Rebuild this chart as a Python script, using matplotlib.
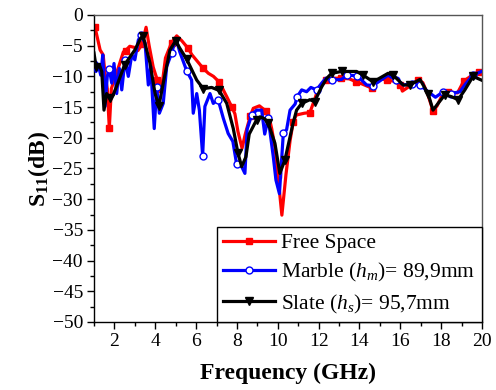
import numpy as np
import matplotlib
matplotlib.use("Agg")
import matplotlib.pyplot as plt
from matplotlib.ticker import MultipleLocator

plt.rcParams['font.family'] = ['Liberation Serif', 'DejaVu Serif']
plt.rcParams['mathtext.fontset'] = 'custom'
plt.rcParams['mathtext.rm'] = 'Liberation Serif'
plt.rcParams['mathtext.it'] = 'Liberation Serif:italic'
plt.rcParams['mathtext.bf'] = 'Liberation Serif:bold'

#### Free space
f_free = [1.0, 1.05, 1.3, 1.45, 1.55, 1.65, 1.75, 1.85, 2.0, 2.2, 2.44, 2.55, 2.75,
          3.0, 3.15, 3.35, 3.55, 3.7, 3.9, 4.1, 4.2, 4.35, 4.5, 4.8, 5.05, 5.3, 5.6,
          5.8, 6.05, 6.35, 6.6, 6.85, 7.13, 7.3, 7.5, 7.75, 7.9, 8.05, 8.25, 8.4,
          8.65, 8.8, 9.1, 9.4, 9.55, 9.7, 9.86, 10.0, 10.2, 10.4, 10.6, 10.75, 10.9,
          11.3, 11.57, 11.8, 12.0, 12.35, 12.7, 13.1, 13.5, 13.85, 14.1, 14.6, 14.8,
          15.05, 15.35, 15.7, 16.0, 16.1, 16.5, 16.85, 17.1, 17.35, 17.6, 17.8, 18.0,
          18.35, 18.8, 19.1, 19.6, 19.85, 20.0]
s_free = [-1.8, -2.0, -5.7, -6.5, -10.0, -12.0, -18.4, -12.0, -10.5, -8.5, -6.0, -5.8, -5.1,
          -5.3, -5.8, -4.8, -2.0, -5.0, -8.5, -10.6, -12.5, -11.0, -7.0, -4.5, -3.4, -4.2, -5.4,
          -6.5, -7.5, -8.7, -9.5, -10.0, -10.9, -12.0, -13.3, -15.0, -16.1, -19.0, -21.7, -19.5,
          -16.5, -15.2, -14.8, -15.6, -16.3, -18.5, -21.5, -26.0, -32.6, -26.0, -20.5, -17.5, -16.3,
          -16.0, -15.9, -13.8, -11.8, -10.6, -10.3, -10.3, -10.4, -10.9, -11.2, -11.9, -11.0,
          -10.4, -10.6, -10.8, -11.4, -12.4, -11.5, -10.6, -11.0, -13.0, -15.6, -14.8, -13.4,
          -12.5, -12.7, -10.8, -9.6, -9.3, -9.1]

#### Marble
f_marble = [1.0, 1.1, 1.21, 1.33, 1.43, 1.54, 1.65, 1.75, 1.87, 1.98, 2.11, 2.24, 2.36,
            2.52, 2.68, 2.85, 3.0, 3.17, 3.3, 3.5, 3.66, 3.78, 3.95, 4.07, 4.2, 4.39, 4.56,
            4.8, 5.01, 5.2, 5.54, 5.78, 5.86, 6.03, 6.16, 6.32, 6.43, 6.68, 6.84, 7.08,
            7.33, 7.57, 7.8, 7.98, 8.23, 8.39, 8.5, 8.72, 8.96, 9.21, 9.36, 9.53, 9.78,
            9.91, 10.08, 10.27, 10.43, 10.6, 10.85, 10.95, 11.17, 11.41, 11.62, 11.9,
            12.15, 12.35, 12.64, 13.12, 13.37, 13.89, 14.35, 14.67, 15.1, 15.4, 15.8,
            16.17, 16.55, 16.96, 17.36, 17.72, 18.1, 18.48, 18.92, 19.2, 19.56, 19.97]
s_marble = [-8.0, -9.2, -8.1, -9.8, -6.5, -14.9, -10.0, -8.8, -11.1, -7.9, -12.8, -8.7, -12.2,
            -7.3, -10.0, -6.5, -7.3, -4.1, -3.3, -4.6, -11.4, -8.4, -18.5, -11.8, -16.0, -14.4, -8.4,
            -6.2, -3.8, -6.0, -9.1, -10.6, -16.0, -12.8, -15.5, -22.9, -14.9, -12.8, -14.4, -13.8,
            -16.8, -19.3, -20.6, -24.2, -24.7, -25.8, -18.6, -16.3, -15.5, -15.5, -19.4, -16.8, -23.1,
            -26.9, -29.1, -19.3, -18.7, -15.5, -14.5, -13.3, -12.2, -12.5, -11.8, -12.2,
            -11.1, -10.3, -10.6, -10.5, -9.8, -9.9, -11.4, -11.5, -10.5, -9.8, -10.6,
            -11.4, -11.2, -11.4, -12.5, -13.4, -12.5, -12.8, -12.5, -11.2, -9.8, -9.2]

#### Slate
f_slate = [1.0, 1.1, 1.26, 1.38, 1.49, 1.62, 1.78, 1.94, 2.2, 2.5, 3.0, 3.3, 3.41, 3.74,
           3.99, 4.18, 4.39, 4.72, 5.0, 5.2, 5.54, 6.03, 6.35, 6.76, 7.13, 7.5, 7.82,
           8.05, 8.23, 8.44, 8.6, 8.96, 9.13, 9.36, 9.53, 9.86, 10.1, 10.35, 10.75,
           10.92, 11.17, 11.57, 11.8, 12.15, 12.4, 12.64, 13.12, 13.86, 14.18, 14.67,
           15.4, 15.65, 16.14, 16.47, 16.96, 17.36, 17.6, 17.85, 18.18, 18.5, 18.83,
           19.16, 19.56, 19.97]
s_slate = [-6.2, -8.4, -8.1, -9.2, -15.5, -12.8, -13.6, -13.0, -10.8, -8.1, -5.7, -3.7, -3.5, -7.8,
           -12.8, -14.8, -11.1, -5.7, -4.2, -5.4, -7.2, -10.6, -12.0, -11.8, -12.3, -14.4, -18.5,
           -22.5, -24.7, -23.1, -19.4, -17.1, -16.6, -16.9, -17.6, -20.9, -25.8, -23.6, -17.6,
           -15.5, -14.4, -13.8, -14.1, -11.7, -10.3, -9.5, -9.2, -9.2, -9.8, -10.9,
           -9.5, -9.8, -11.4, -11.4, -10.5, -12.8, -15.5, -14.4, -13.0, -13.3, -13.8,
           -12.2, -10.0, -10.6]


def mark_idx(f, step, start):
    # indexes of the samples closest to a regular marker grid
    f = np.asarray(f)
    grid = np.arange(start, 20.01, step)
    return sorted(set(int(np.argmin(np.abs(f - g))) for g in grid))


fig = plt.figure(figsize=(4.96, 3.9), dpi=100)
ax = fig.add_axes([0.1895, 0.1744, 0.7823, 0.7872])

ax.plot(f_free, s_free, color='#ff0000', lw=2.3, marker='s', ms=4.5,
        markevery=mark_idx(f_free, 0.75, 1.05), label='Free Space', zorder=2)
ax.plot(f_marble, s_marble, color='#0000ff', lw=2.3, marker='o', ms=5,
        mfc='white', mec='#0000ff', mew=1.0,
        markevery=mark_idx(f_marble, 0.77, 0.98),
        label='Marble ($\\mathit{h}_{\\mathit{m}}$)= 89,9mm', zorder=3)
ax.plot(f_slate, s_slate, color='black', lw=2.3, marker='v', ms=5.5,
        markevery=mark_idx(f_slate, 0.77, 1.08),
        label='Slate ($\\mathit{h}_{\\mathit{s}}$)= 95,7mm', zorder=4)

ax.set_xlim(1, 20)
ax.set_ylim(-50, 0)
ax.xaxis.set_major_locator(MultipleLocator(2))
ax.xaxis.set_minor_locator(MultipleLocator(1))
ax.yaxis.set_major_locator(MultipleLocator(5))
ax.yaxis.set_minor_locator(MultipleLocator(2.5))
ax.tick_params(which='both', direction='out', top=False, right=False, labelsize=14)
ax.tick_params(which='major', length=5, width=1, pad=3)
ax.tick_params(which='minor', length=3, width=1)
ax.set_xticks(range(2, 21, 2))
for s in ['top', 'right']:
    ax.spines[s].set_color('#555555')
for s in ax.spines.values():
    s.set_linewidth(1)

ax.set_xlabel('Frequency (GHz)', fontsize=17, fontweight='bold', labelpad=9)
ax.set_ylabel('S$_{\\mathbf{11}}$(dB)', fontsize=17, fontweight='bold', labelpad=0)

leg = ax.legend(loc='lower right', bbox_to_anchor=(1, 0), borderaxespad=0,
                fancybox=False, edgecolor='black', framealpha=1, fontsize=15.5,
                handlelength=2.4, handletextpad=0.3, labelspacing=0.38,
                borderpad=0.3)
leg.get_frame().set_linewidth(1)

fig.savefig('out.png', dpi=100)
